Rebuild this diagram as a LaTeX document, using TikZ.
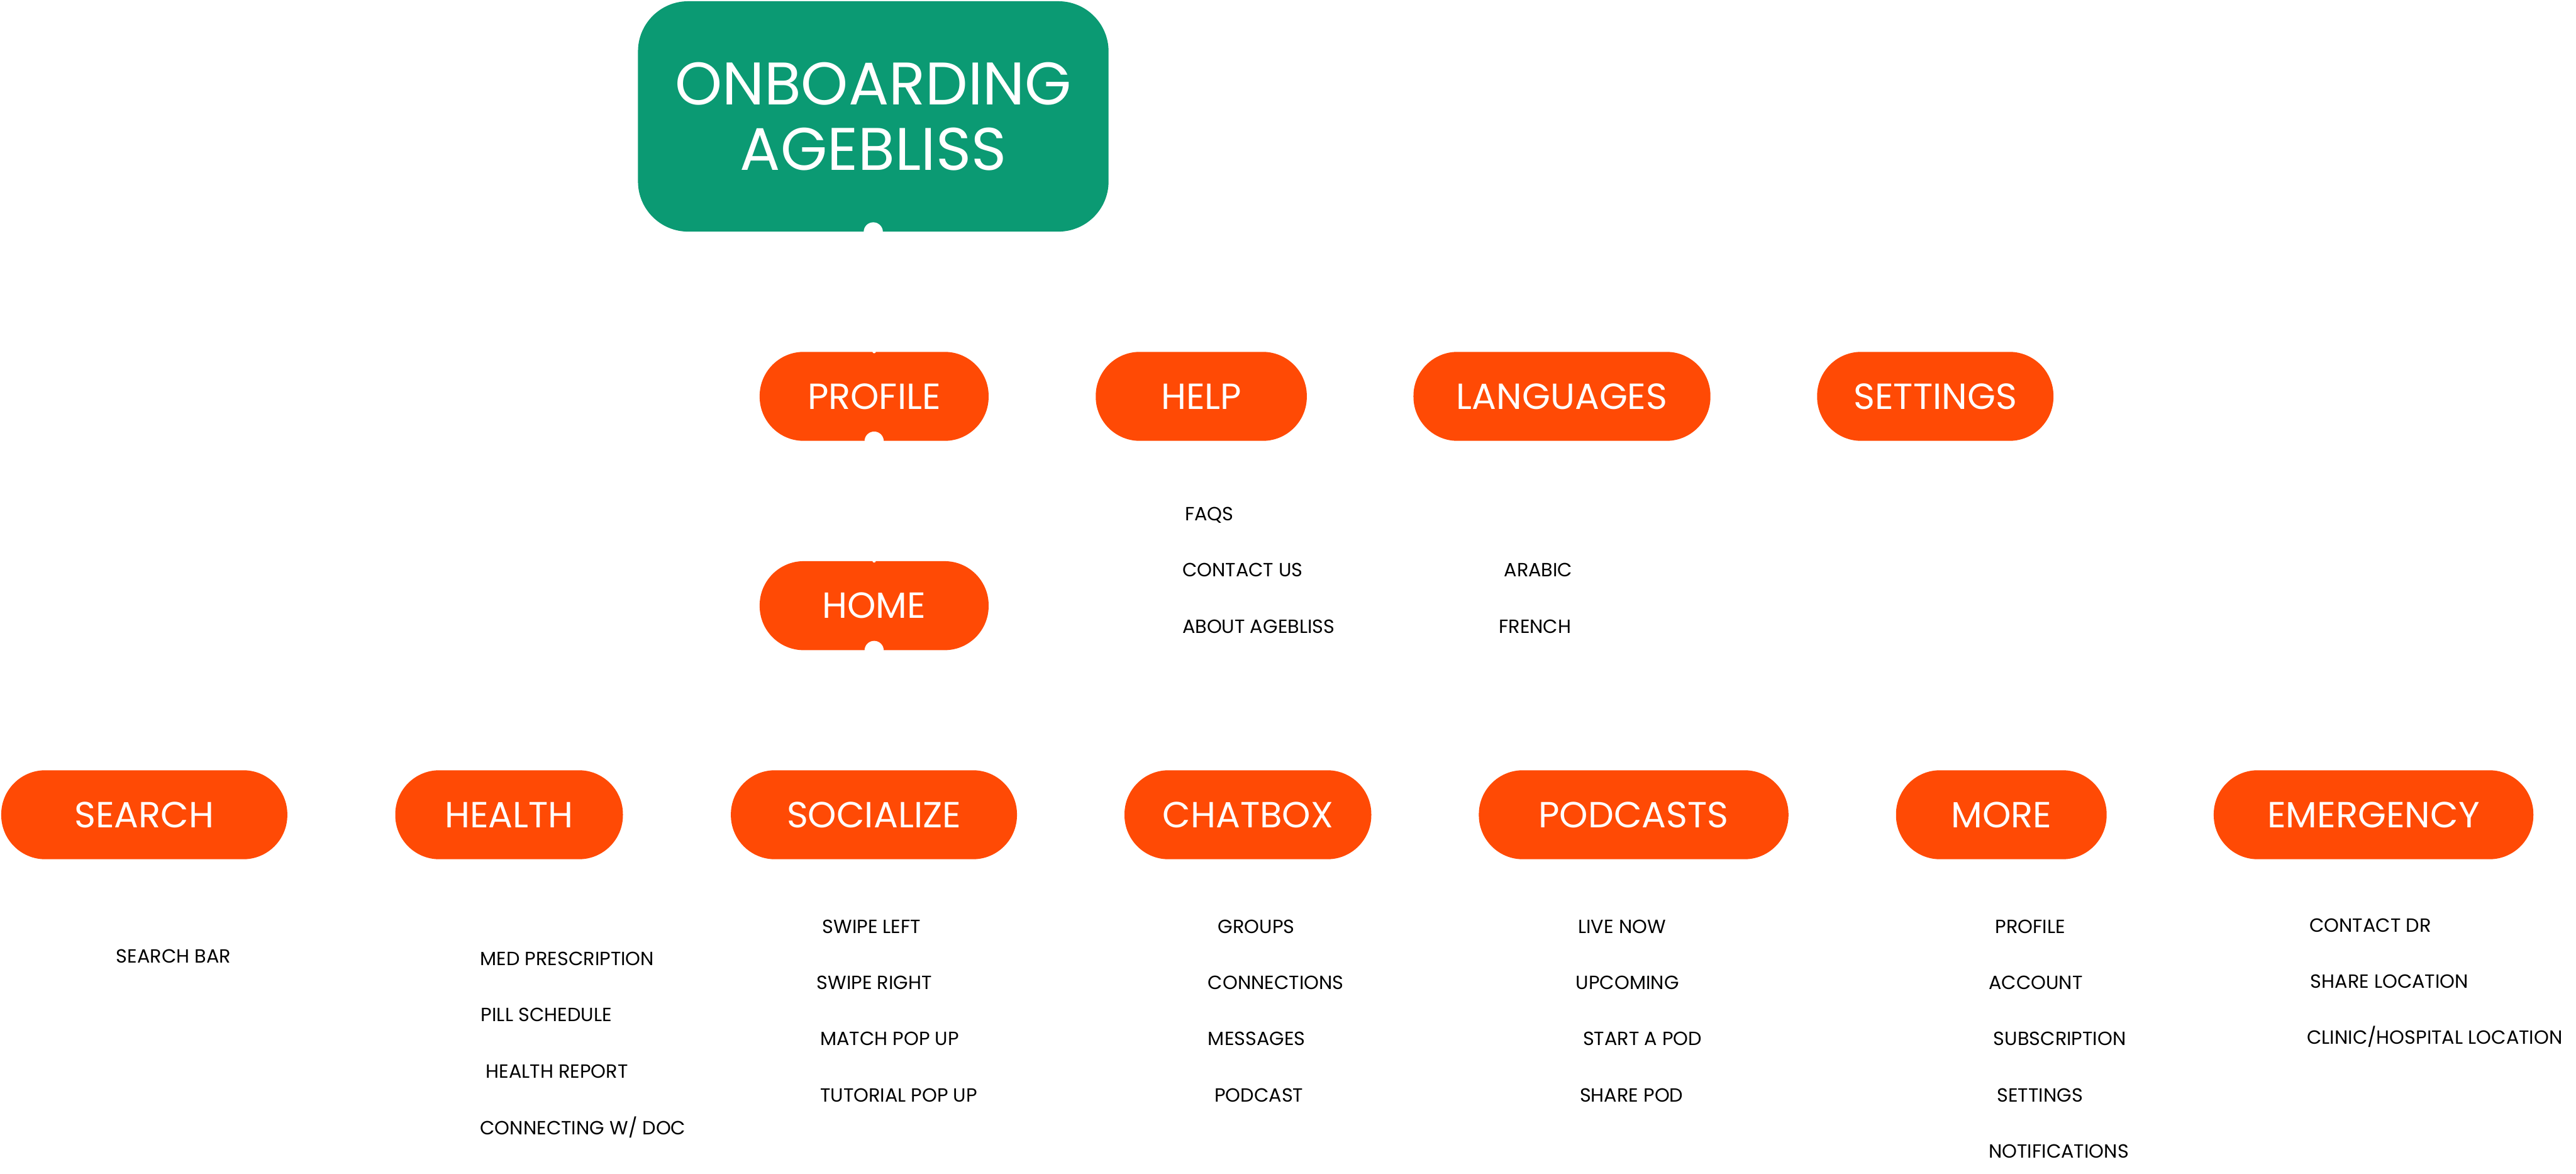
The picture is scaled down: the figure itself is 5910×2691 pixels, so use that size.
\documentclass[tikz,border=0pt]{standalone}
\usepackage{fontspec}
\setmainfont{Poppins}
\definecolor{agegreen}{RGB}{11,154,115}
\definecolor{ageorange}{RGB}{255,74,5}
\begin{document}
\begin{tikzpicture}[x=0.01cm,y=-0.01cm,
  pill/.style={fill=ageorange, draw=none, rounded corners=1.01cm, minimum height=2.04cm,
    text=white, inner sep=0pt, font=\fontsize{23.7}{28}\selectfont, text height=0.58cm, text depth=0pt},
  topbox/.style={fill=agegreen, draw=none, rounded corners=1.15cm, minimum width=10.79cm,
    minimum height=5.28cm, text=white, inner sep=0pt, align=center,
    font=\fontsize{39.2}{42.5}\selectfont},
  item/.style={anchor=base west, inner sep=0pt, font=\fontsize{12.45}{15}\selectfont, text=black},
  notch/.style={fill=white}
]
\useasboundingbox (0,0) rectangle (5910,2691);

% top
\node[topbox] (top) at (2003.5,267) {ONBOARDING\\AGEBLISS};

% first row
\node[pill, minimum width=5.25cm] (profile) at (2005.5,909) {PROFILE};
\node[pill, minimum width=4.84cm] (help) at (2756,909) {HELP};
\node[pill, minimum width=6.81cm] (languages) at (3583.5,909) {LANGUAGES};
\node[pill, minimum width=5.42cm] (settings) at (4440,909) {SETTINGS};

\node[pill, minimum width=5.25cm] (home) at (2005.5,1389) {HOME};

% bottom row
\node[pill, minimum width=6.56cm] (search) at (331,1868.5) {SEARCH};
\node[pill, minimum width=5.22cm] (health) at (1168,1868.5) {HEALTH};
\node[pill, minimum width=6.56cm] (socialize) at (2005,1868.5) {SOCIALIZE};
\node[pill, minimum width=5.66cm] (chatbox) at (2863,1868.5) {CHATBOX};
\node[pill, minimum width=7.10cm] (podcasts) at (3748,1868.5) {PODCASTS};
\node[pill, minimum width=4.83cm] (more) at (4591.5,1868.5) {MORE};
\node[pill, minimum width=7.33cm] (emergency) at (5445.5,1868.5) {EMERGENCY};

% notches
\fill[notch] (top.south) circle[radius=0.22cm];
\fill[notch] (profile.south) circle[radius=0.22cm];
\fill[notch] (profile.north) circle[radius=0.04cm];
\fill[notch] (home.south) circle[radius=0.22cm];
\fill[notch] (home.north) circle[radius=0.04cm];

% help items
\node[item] (faqs) at (2718,1194) {FAQS};
\node[item] (contact) at (2712,1323) {CONTACT US};
\node[item] (about) at (2712,1452) {ABOUT AGEBLISS};
% languages
\node[item] (arabic) at (3450,1323) {ARABIC};
\node[item] (french) at (3438,1452) {FRENCH};

% search
\node[item] (searchbar) at (266,2208) {SEARCH BAR};
% health
\node[item] (med) at (1101,2214) {MED PRESCRIPTION};
\node[item] (pill) at (1103,2343) {PILL SCHEDULE};
\node[item] (report) at (1114,2473) {HEALTH REPORT};
\node[item] (doc) at (1101,2602) {CONNECTING W/ DOC};
% socialize
\node[item] (swl) at (1886,2140) {SWIPE LEFT};
\node[item] (swr) at (1873,2269) {SWIPE RIGHT};
\node[item] (match) at (1881,2398) {MATCH POP UP};
\node[item] (tut) at (1881,2527) {TUTORIAL POP UP};
% chatbox
\node[item] (groups) at (2794,2140) {GROUPS};
\node[item] (conn) at (2771,2269) {CONNECTIONS};
\node[item] (msgs) at (2771,2398) {MESSAGES};
\node[item] (pod) at (2786,2527) {PODCAST};
% podcasts
\node[item] (live) at (3620,2140) {LIVE NOW};
\node[item] (upc) at (3615,2269) {UPCOMING};
\node[item] (start) at (3631,2398) {START A POD};
\node[item] (share) at (3624,2527) {SHARE POD};
% more
\node[item] (mprofile) at (4577,2140) {PROFILE};
\node[item] (account) at (4562,2269) {ACCOUNT};
\node[item] (subs) at (4573,2398) {SUBSCRIPTION};
\node[item] (msettings) at (4581,2527) {SETTINGS};
\node[item] (notif) at (4562,2656) {NOTIFICATIONS};
% emergency
\node[item] (cdr) at (5298,2137) {CONTACT DR};
\node[item] (sloc) at (5300,2266) {SHARE LOCATION};
\node[item] (clinic) at (5292,2395) {CLINIC/HOSPITAL LOCATION};
\end{tikzpicture}
\end{document}
